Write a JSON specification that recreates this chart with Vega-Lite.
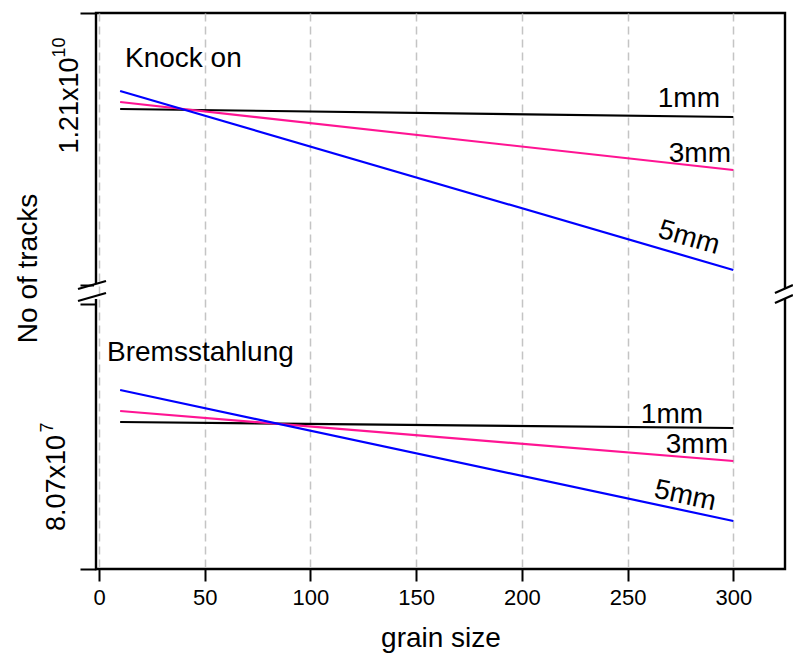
{
  "$schema": "https://vega.github.io/schema/vega-lite/v6.json",
  "width": 689,
  "height": 556,
  "autosize": {"type": "none"},
  "padding": {"left": 96, "top": 13, "right": 8, "bottom": 88},
  "background": "white",
  "config": {
    "font": "Liberation Sans",
    "view": {"stroke": "black", "strokeWidth": 2.4},
    "axis": {"zindex": 0}
  },
  "datasets": {
    "knock": [
      {"grain_size": 10, "tracks": 12072000000, "thickness": "1mm"},
      {"grain_size": 300, "tracks": 12056000000, "thickness": "1mm"},
      {"grain_size": 10, "tracks": 12086000000, "thickness": "3mm"},
      {"grain_size": 300, "tracks": 11950000000, "thickness": "3mm"},
      {"grain_size": 10, "tracks": 12108000000, "thickness": "5mm"},
      {"grain_size": 300, "tracks": 11750000000, "thickness": "5mm"}
    ],
    "brems": [
      {"grain_size": 10, "tracks": 81780000, "thickness": "1mm"},
      {"grain_size": 300, "tracks": 81660000, "thickness": "1mm"},
      {"grain_size": 10, "tracks": 82000000, "thickness": "3mm"},
      {"grain_size": 300, "tracks": 81000000, "thickness": "3mm"},
      {"grain_size": 10, "tracks": 82420000, "thickness": "5mm"},
      {"grain_size": 300, "tracks": 79800000, "thickness": "5mm"}
    ]
  },
  "resolve": {"scale": {"y": "independent"}},
  "layer": [
    {
      "layer": [
        {
          "data": {"name": "knock"},
          "mark": {"type": "line", "strokeWidth": 2.2},
          "encoding": {
            "x": {
              "field": "grain_size", "type": "quantitative",
              "scale": {"domain": [-1.42, 324.45], "nice": false, "zero": false},
              "axis": {
                "values": [0, 50, 100, 150, 200, 250, 300],
                "grid": true, "gridDash": [8, 5], "gridColor": "#c4c4c4", "gridWidth": 1.5,
                "domain": false, "ticks": true, "tickSize": 12, "tickColor": "black", "tickWidth": 2,
                "labelFontSize": 22, "labelColor": "black", "labelPadding": 6,
                "title": "grain size", "titleFontSize": 28, "titleFontWeight": "normal",
                "titleColor": "black", "titlePadding": 16
              }
            },
            "y": {
              "field": "tracks", "type": "quantitative",
              "scale": {"domain": [11152000000, 12264000000], "nice": false, "zero": false},
              "axis": {
                "orient": "left",
                "values": [12264000000, 11720000000, 11682000000, 11152000000],
                "labels": false, "domain": false, "grid": false,
                "tickSize": 16, "tickColor": "black", "tickWidth": 2,
                "title": "No of tracks", "titleFontSize": 28, "titleFontWeight": "normal",
                "titleColor": "black", "titleAngle": 270, "titleX": -68, "titleY": 255,
                "titleAlign": "center", "titleBaseline": "middle"
              }
            },
            "color": {
              "field": "thickness", "type": "nominal",
              "scale": {"domain": ["1mm", "3mm", "5mm"], "range": ["black", "#FF1493", "#0000FF"]},
              "legend": null
            }
          }
        },
        {
          "data": {"values": [{"grain_size": 12.3, "tracks": 12156000000, "text": "Knock on"}]},
          "mark": {"type": "text", "align": "left", "baseline": "alphabetic", "fontSize": 28, "color": "black"},
          "encoding": {
            "x": {"field": "grain_size", "type": "quantitative"},
            "y": {"field": "tracks", "type": "quantitative", "scale": {"domain": [11152000000, 12264000000], "nice": false, "zero": false}},
            "text": {"field": "text"}
          }
        },
        {
          "data": {"values": [
            {"grain_size": 293.7, "tracks": 12076000000, "text": "1mm"},
            {"grain_size": 298.9, "tracks": 11966000000, "text": "3mm"}
          ]},
          "mark": {"type": "text", "align": "right", "baseline": "alphabetic", "fontSize": 28, "color": "black"},
          "encoding": {
            "x": {"field": "grain_size", "type": "quantitative"},
            "y": {"field": "tracks", "type": "quantitative", "scale": {"domain": [11152000000, 12264000000], "nice": false, "zero": false}},
            "text": {"field": "text"}
          }
        },
        {
          "data": {"values": [{"grain_size": 279.0, "tracks": 11814000000, "text": "5mm"}]},
          "mark": {"type": "text", "align": "center", "baseline": "middle", "angle": 16, "fontSize": 28, "color": "black"},
          "encoding": {
            "x": {"field": "grain_size", "type": "quantitative"},
            "y": {"field": "tracks", "type": "quantitative", "scale": {"domain": [11152000000, 12264000000], "nice": false, "zero": false}},
            "text": {"field": "text"}
          }
        },
        {
          "data": {"values": [{"grain_size": -13.7, "tracks": 12079000000, "text": "1.21x10"}]},
          "mark": {"type": "text", "align": "center", "baseline": "middle", "angle": 270, "fontSize": 27, "color": "black"},
          "encoding": {
            "x": {"field": "grain_size", "type": "quantitative"},
            "y": {"field": "tracks", "type": "quantitative", "scale": {"domain": [11152000000, 12264000000], "nice": false, "zero": false}},
            "text": {"field": "text"}
          }
        },
        {
          "data": {"values": [{"grain_size": -18.4, "tracks": 12195000000, "text": "10"}]},
          "mark": {"type": "text", "align": "center", "baseline": "middle", "angle": 270, "fontSize": 18, "color": "black"},
          "encoding": {
            "x": {"field": "grain_size", "type": "quantitative"},
            "y": {"field": "tracks", "type": "quantitative", "scale": {"domain": [11152000000, 12264000000], "nice": false, "zero": false}},
            "text": {"field": "text"}
          }
        },
        {
          "data": {"values": [
            {"grain_size": -2.36, "grain_size_end": -0.47, "tracks": 11722000000, "tracks_end": 11692000000},
            {"grain_size": 323.5, "grain_size_end": 325.9, "tracks": 11714000000, "tracks_end": 11692000000}
          ]},
          "mark": {"type": "rect", "fill": "white", "stroke": null},
          "encoding": {
            "x": {"field": "grain_size", "type": "quantitative"},
            "x2": {"field": "grain_size_end"},
            "y": {"field": "tracks", "type": "quantitative", "scale": {"domain": [11152000000, 12264000000], "nice": false, "zero": false}},
            "y2": {"field": "tracks_end"}
          }
        },
        {
          "data": {"values": [
            {"grain_size": -9.93, "grain_size_end": 3.31, "tracks": 11712000000, "tracks_end": 11728000000},
            {"grain_size": -9.93, "grain_size_end": 3.31, "tracks": 11688000000, "tracks_end": 11704000000},
            {"grain_size": 319.7, "grain_size_end": 328.2, "tracks": 11704000000, "tracks_end": 11720000000},
            {"grain_size": 319.7, "grain_size_end": 328.2, "tracks": 11684000000, "tracks_end": 11700000000}
          ]},
          "mark": {"type": "rule", "color": "black", "strokeWidth": 2.2},
          "encoding": {
            "x": {"field": "grain_size", "type": "quantitative"},
            "x2": {"field": "grain_size_end"},
            "y": {"field": "tracks", "type": "quantitative", "scale": {"domain": [11152000000, 12264000000], "nice": false, "zero": false}},
            "y2": {"field": "tracks_end"}
          }
        }
      ]
    },
    {
      "layer": [
        {
          "data": {"name": "brems"},
          "mark": {"type": "line", "strokeWidth": 2.2},
          "encoding": {
            "x": {"field": "grain_size", "type": "quantitative"},
            "y": {
              "field": "tracks", "type": "quantitative",
              "scale": {"domain": [78840000, 89960000], "nice": false, "zero": false},
              "axis": null
            },
            "color": {
              "field": "thickness", "type": "nominal",
              "scale": {"domain": ["1mm", "3mm", "5mm"], "range": ["black", "#FF1493", "#0000FF"]},
              "legend": null
            }
          }
        },
        {
          "data": {"values": [{"grain_size": 3.8, "tracks": 83000000, "text": "Bremsstahlung"}]},
          "mark": {"type": "text", "align": "left", "baseline": "alphabetic", "fontSize": 28, "color": "black"},
          "encoding": {
            "x": {"field": "grain_size", "type": "quantitative"},
            "y": {"field": "tracks", "type": "quantitative", "scale": {"domain": [78840000, 89960000], "nice": false, "zero": false}, "axis": null},
            "text": {"field": "text"}
          }
        },
        {
          "data": {"values": [
            {"grain_size": 285.7, "tracks": 81760000, "text": "1mm"},
            {"grain_size": 297.5, "tracks": 81160000, "text": "3mm"}
          ]},
          "mark": {"type": "text", "align": "right", "baseline": "alphabetic", "fontSize": 28, "color": "black"},
          "encoding": {
            "x": {"field": "grain_size", "type": "quantitative"},
            "y": {"field": "tracks", "type": "quantitative", "scale": {"domain": [78840000, 89960000], "nice": false, "zero": false}, "axis": null},
            "text": {"field": "text"}
          }
        },
        {
          "data": {"values": [{"grain_size": 277.2, "tracks": 80300000, "text": "5mm"}]},
          "mark": {"type": "text", "align": "center", "baseline": "middle", "angle": 12, "fontSize": 28, "color": "black"},
          "encoding": {
            "x": {"field": "grain_size", "type": "quantitative"},
            "y": {"field": "tracks", "type": "quantitative", "scale": {"domain": [78840000, 89960000], "nice": false, "zero": false}, "axis": null},
            "text": {"field": "text"}
          }
        },
        {
          "data": {"values": [{"grain_size": -20.1, "tracks": 80560000, "text": "8.07x10"}]},
          "mark": {"type": "text", "align": "center", "baseline": "middle", "angle": 270, "fontSize": 27, "color": "black"},
          "encoding": {
            "x": {"field": "grain_size", "type": "quantitative"},
            "y": {"field": "tracks", "type": "quantitative", "scale": {"domain": [78840000, 89960000], "nice": false, "zero": false}, "axis": null},
            "text": {"field": "text"}
          }
        },
        {
          "data": {"values": [{"grain_size": -24.0, "tracks": 81670000, "text": "7"}]},
          "mark": {"type": "text", "align": "center", "baseline": "middle", "angle": 270, "fontSize": 18, "color": "black"},
          "encoding": {
            "x": {"field": "grain_size", "type": "quantitative"},
            "y": {"field": "tracks", "type": "quantitative", "scale": {"domain": [78840000, 89960000], "nice": false, "zero": false}, "axis": null},
            "text": {"field": "text"}
          }
        }
      ]
    }
  ]
}
